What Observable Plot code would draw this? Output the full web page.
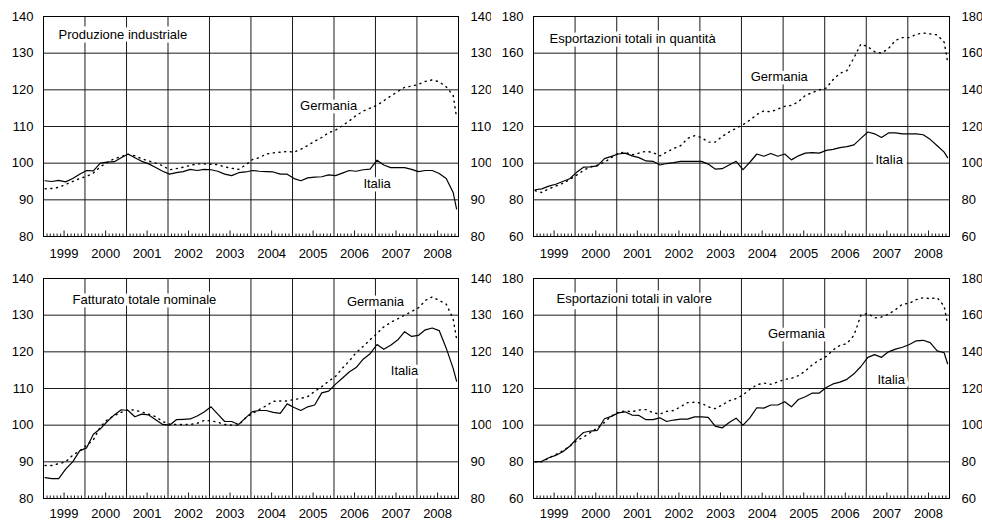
<!DOCTYPE html>
<html><head><meta charset="utf-8">
<script src="https://cdn.jsdelivr.net/npm/d3@7"></script>
<script src="https://cdn.jsdelivr.net/npm/@observablehq/plot@0.6"></script>
<style>
body{margin:0;background:#fff;}
#grid{display:grid;grid-template-columns:491px 491px;width:982px;}
#grid svg{display:block;}
</style></head><body><div id="grid"></div>
<script>
// month index from Jan 1999 (0) to Dec 2008 (119), sampled every two months plus the last month
const monthIdx = d3.range(0, 120, 2).concat([119]);
const years = d3.range(1999, 2009);

const ticks140 = [80, 90, 100, 110, 120, 130, 140];
const ticks180 = [60, 80, 100, 120, 140, 160, 180];

const prodIta = [95.2,95.0,95.3,94.9,95.8,97.0, 98.0,97.9,100.0,100.3,100.4,101.5, 102.5,101.5,100.5,99.8,98.8,97.8, 97.0,97.4,97.7,98.3,98.0,98.3, 98.2,97.8,97.0,96.6,97.4,97.6, 98.0,97.8,97.7,97.6,97.0,97.0, 95.8,95.2,96.0,96.2,96.3,96.8, 96.6,97.3,98.0,97.8,98.2,98.4, 100.8,99.5,98.8,98.8,98.8,98.3, 97.7,98.0,98.0,97.2,95.8,92.0, 87.5];
const prodGer = [93.0,93.1,93.4,94.2,95.0,95.8, 96.4,97.3,99.0,100.2,101.2,101.8, 102.4,102.0,101.2,100.6,100.0,99.3, 98.2,98.5,98.9,99.4,99.8,99.8, 99.7,99.6,99.0,98.6,98.3,99.5, 101.0,101.5,102.5,102.8,103.0,103.2, 103.0,103.8,104.8,106.0,107.0,108.3, 109.0,110.2,111.5,113.0,114.2,115.0, 115.8,117.0,118.3,119.5,120.7,121.0, 121.5,122.3,122.7,122.2,120.8,118.5, 112.5];

const expQtyIta = [85.5,86.0,87.5,88.5,90.0,91.5, 95.0,97.8,98.0,98.5,102.5,103.7, 105.0,105.5,104.0,103.0,101.2,101.0, 99.0,99.8,100.3,101.0,101.0,101.0, 101.0,99.5,96.8,97.0,99.0,101.0, 96.5,100.5,105.0,103.8,105.3,103.8, 105.0,101.8,104.0,105.5,105.8,105.5, 107.0,107.5,108.5,109.0,110.0,113.5, 117.0,116.0,114.0,116.5,116.5,116.0, 116.0,116.0,115.5,113.0,109.5,106.0, 103.0];
const expQtyGer = [85.0,84.0,86.0,87.5,89.0,91.0, 93.5,96.0,98.0,98.8,100.5,103.0, 105.5,106.0,104.5,105.5,106.5,105.8, 104.0,106.0,108.0,109.5,113.5,115.0, 114.0,111.5,111.5,114.5,117.0,119.0, 121.0,123.5,126.5,128.5,128.0,129.5, 131.0,131.5,133.5,137.0,138.5,140.0, 141.0,145.5,149.0,150.5,157.5,165.0, 163.5,160.8,160.0,162.5,167.0,168.5, 168.5,170.3,171.0,170.5,170.0,166.0, 155.5];

const fattIta = [85.7,85.4,85.4,88.0,90.0,93.0, 93.8,97.5,99.0,101.0,102.8,104.2, 104.0,102.3,103.0,102.8,101.5,100.2, 100.0,101.5,101.6,101.7,102.5,103.6, 105.0,103.0,101.0,101.0,100.2,102.0, 103.7,104.0,104.0,103.5,103.2,105.8, 104.8,104.0,105.0,105.5,108.8,109.3, 111.2,112.8,114.5,115.7,118.0,119.5, 122.0,120.7,121.8,123.2,125.5,124.2, 124.5,126.0,126.5,125.8,121.0,115.5, 112.0];
const fattGer = [89.0,89.0,89.5,90.0,91.8,93.0, 94.5,96.0,99.5,101.5,102.6,103.5, 104.2,104.1,103.6,103.0,102.3,101.0, 100.3,100.2,100.2,100.2,100.5,101.3, 101.2,100.8,100.2,100.0,100.0,102.0, 103.2,104.3,105.3,106.5,106.6,106.6, 107.0,107.3,107.8,109.2,110.5,112.0, 113.3,115.5,117.5,119.8,121.5,123.3, 125.0,126.8,128.0,129.0,130.0,131.0, 132.0,134.0,135.0,134.0,133.0,129.0, 123.5];

const expValIta = [80.0,80.3,82.2,83.5,85.5,88.5, 92.5,96.0,96.8,97.2,103.5,104.8, 106.7,107.3,105.5,105.3,103.0,103.0, 104.0,102.0,102.8,103.3,103.3,104.5, 104.5,104.3,99.5,98.5,101.5,103.8, 100.0,104.0,109.5,109.3,111.0,111.0, 112.8,110.0,114.0,115.5,117.5,117.5, 120.5,122.5,123.5,125.0,128.0,132.0, 137.0,138.5,137.0,140.0,141.5,142.5, 144.0,146.0,146.3,145.0,140.5,139.5, 133.5];
const expValGer = [80.0,80.0,82.0,84.0,86.0,88.5, 91.5,93.5,96.0,98.5,101.5,105.0, 107.0,107.8,107.3,108.3,108.5,106.8, 106.0,107.5,108.0,110.0,112.3,112.5, 112.0,110.0,109.0,111.0,113.3,114.5, 116.5,119.5,122.0,123.0,122.3,123.5, 125.0,125.5,127.0,129.5,133.0,135.5, 137.5,141.0,143.5,144.5,149.0,160.0, 161.0,158.5,159.0,160.5,163.0,166.0, 166.5,168.5,169.5,169.0,169.5,165.0, 155.0];

const titles = ["Produzione industriale", "Esportazioni totali in quantità", "Fatturato totale nominale", "Esportazioni totali in valore"];
const seriesNames = ["Germania", "Italia"];

// label anchors in data space: [decimal year, value]
const labelPos = [
  [[2005.87, 115.7], [2007.04, 94.5]],
  [[2004.91, 147.3], [2007.55, 101.6]],
  [[2007.0, 133.7], [2007.7, 114.9]],
  [[2005.32, 150.0], [2007.6, 124.9]]
];

const monthDate = m => new Date(Date.UTC(1999, m, 15));
const decDate = yr => new Date(Date.UTC(Math.floor(yr), 0, 1) + (yr - Math.floor(yr)) * 365.25 * 864e5);

const x0 = new Date(Date.UTC(1999, 0, 1)), x1 = new Date(Date.UTC(2009, 0, 1));
const yearStarts = years.slice(1).map(y => new Date(Date.UTC(y, 0, 1)));
const midYears = years.map(y => new Date(Date.UTC(y, 6, 1)));
const allMonths = d3.utcMonth.range(x0, x1);
const minorMonths = allMonths.filter(d => d.getUTCMonth() !== 0 && d.getUTCMonth() !== 6);

const panels = [
  {ita: prodIta, ger: prodGer, ticks: ticks140, title: titles[0], labels: labelPos[0], ml: 43, h: 262, mb: 26, tdx: 15, tdy: 18, xpad: 12},
  {ita: expQtyIta, ger: expQtyGer, ticks: ticks180, title: titles[1], labels: labelPos[1], ml: 42, h: 262, mb: 26, tdx: 16, tdy: 22, xpad: 12},
  {ita: fattIta, ger: fattGer, ticks: ticks140, title: titles[2], labels: labelPos[2], ml: 43, h: 261, mb: 25, tdx: 29, tdy: 21, xpad: 10},
  {ita: expValIta, ger: expValGer, ticks: ticks180, title: titles[3], labels: labelPos[3], ml: 42, h: 261, mb: 25, tdx: 23, tdy: 20, xpad: 10}
];

const grid = document.getElementById("grid");
for (const p of panels) {
  const itaData = monthIdx.map((m, i) => ({date: monthDate(m), value: p.ita[i]}));
  const gerData = monthIdx.map((m, i) => ({date: monthDate(m), value: p.ger[i]}));
  const lbls = seriesNames.map((n, i) => ({x: decDate(p.labels[i][0]), y: p.labels[i][1], t: n}));
  const frameH = p.h - 16 - p.mb;
  const chart = Plot.plot({
    width: 491, height: p.h,
    marginLeft: p.ml, marginRight: 33, marginTop: 16, marginBottom: p.mb,
    x: {type: "utc", domain: [x0, x1]},
    y: {domain: [p.ticks[0], p.ticks[p.ticks.length - 1]]},
    style: {fontFamily: "'Liberation Sans', Arial, sans-serif", fontSize: "13px", color: "black", background: "white"},
    marks: [
      Plot.ruleY(p.ticks.slice(1, -1), {stroke: "#1a1a1a", strokeWidth: 1}),
      Plot.ruleX(yearStarts, {stroke: "#1a1a1a", strokeWidth: 1}),
      Plot.ruleX(minorMonths, {stroke: "#1a1a1a", insetTop: frameH - 2.5}),
      Plot.ruleX(midYears, {stroke: "#1a1a1a", insetTop: frameH - 5.5}),
      Plot.line(gerData, {x: "date", y: "value", stroke: "black", strokeWidth: 1.4, strokeDasharray: "1.1,4.6"}),
      Plot.line(itaData, {x: "date", y: "value", stroke: "black", strokeWidth: 1.2}),
      Plot.text(lbls, {x: "x", y: "y", text: "t", fill: "black", stroke: "white", strokeWidth: 7, fontSize: 13}),
      Plot.text([p.title], {frameAnchor: "top-left", dx: p.tdx, dy: p.tdy, textAnchor: "start", lineAnchor: "middle", fill: "black", stroke: "white", strokeWidth: 7, fontSize: 13}),
      Plot.frame({stroke: "black", strokeWidth: 1}),
      Plot.axisY({anchor: "left", ticks: p.ticks, tickSize: 0, tickPadding: 10, label: null, fontSize: 13}),
      Plot.axisY({anchor: "right", ticks: p.ticks, tickSize: 0, tickPadding: 12, label: null, fontSize: 13}),
      Plot.axisX({ticks: midYears, tickSize: 0, tickPadding: p.xpad, tickFormat: d3.utcFormat("%Y"), label: null, fontSize: 13})
    ]
  });
  grid.appendChild(chart);
}
</script>
</body></html>
